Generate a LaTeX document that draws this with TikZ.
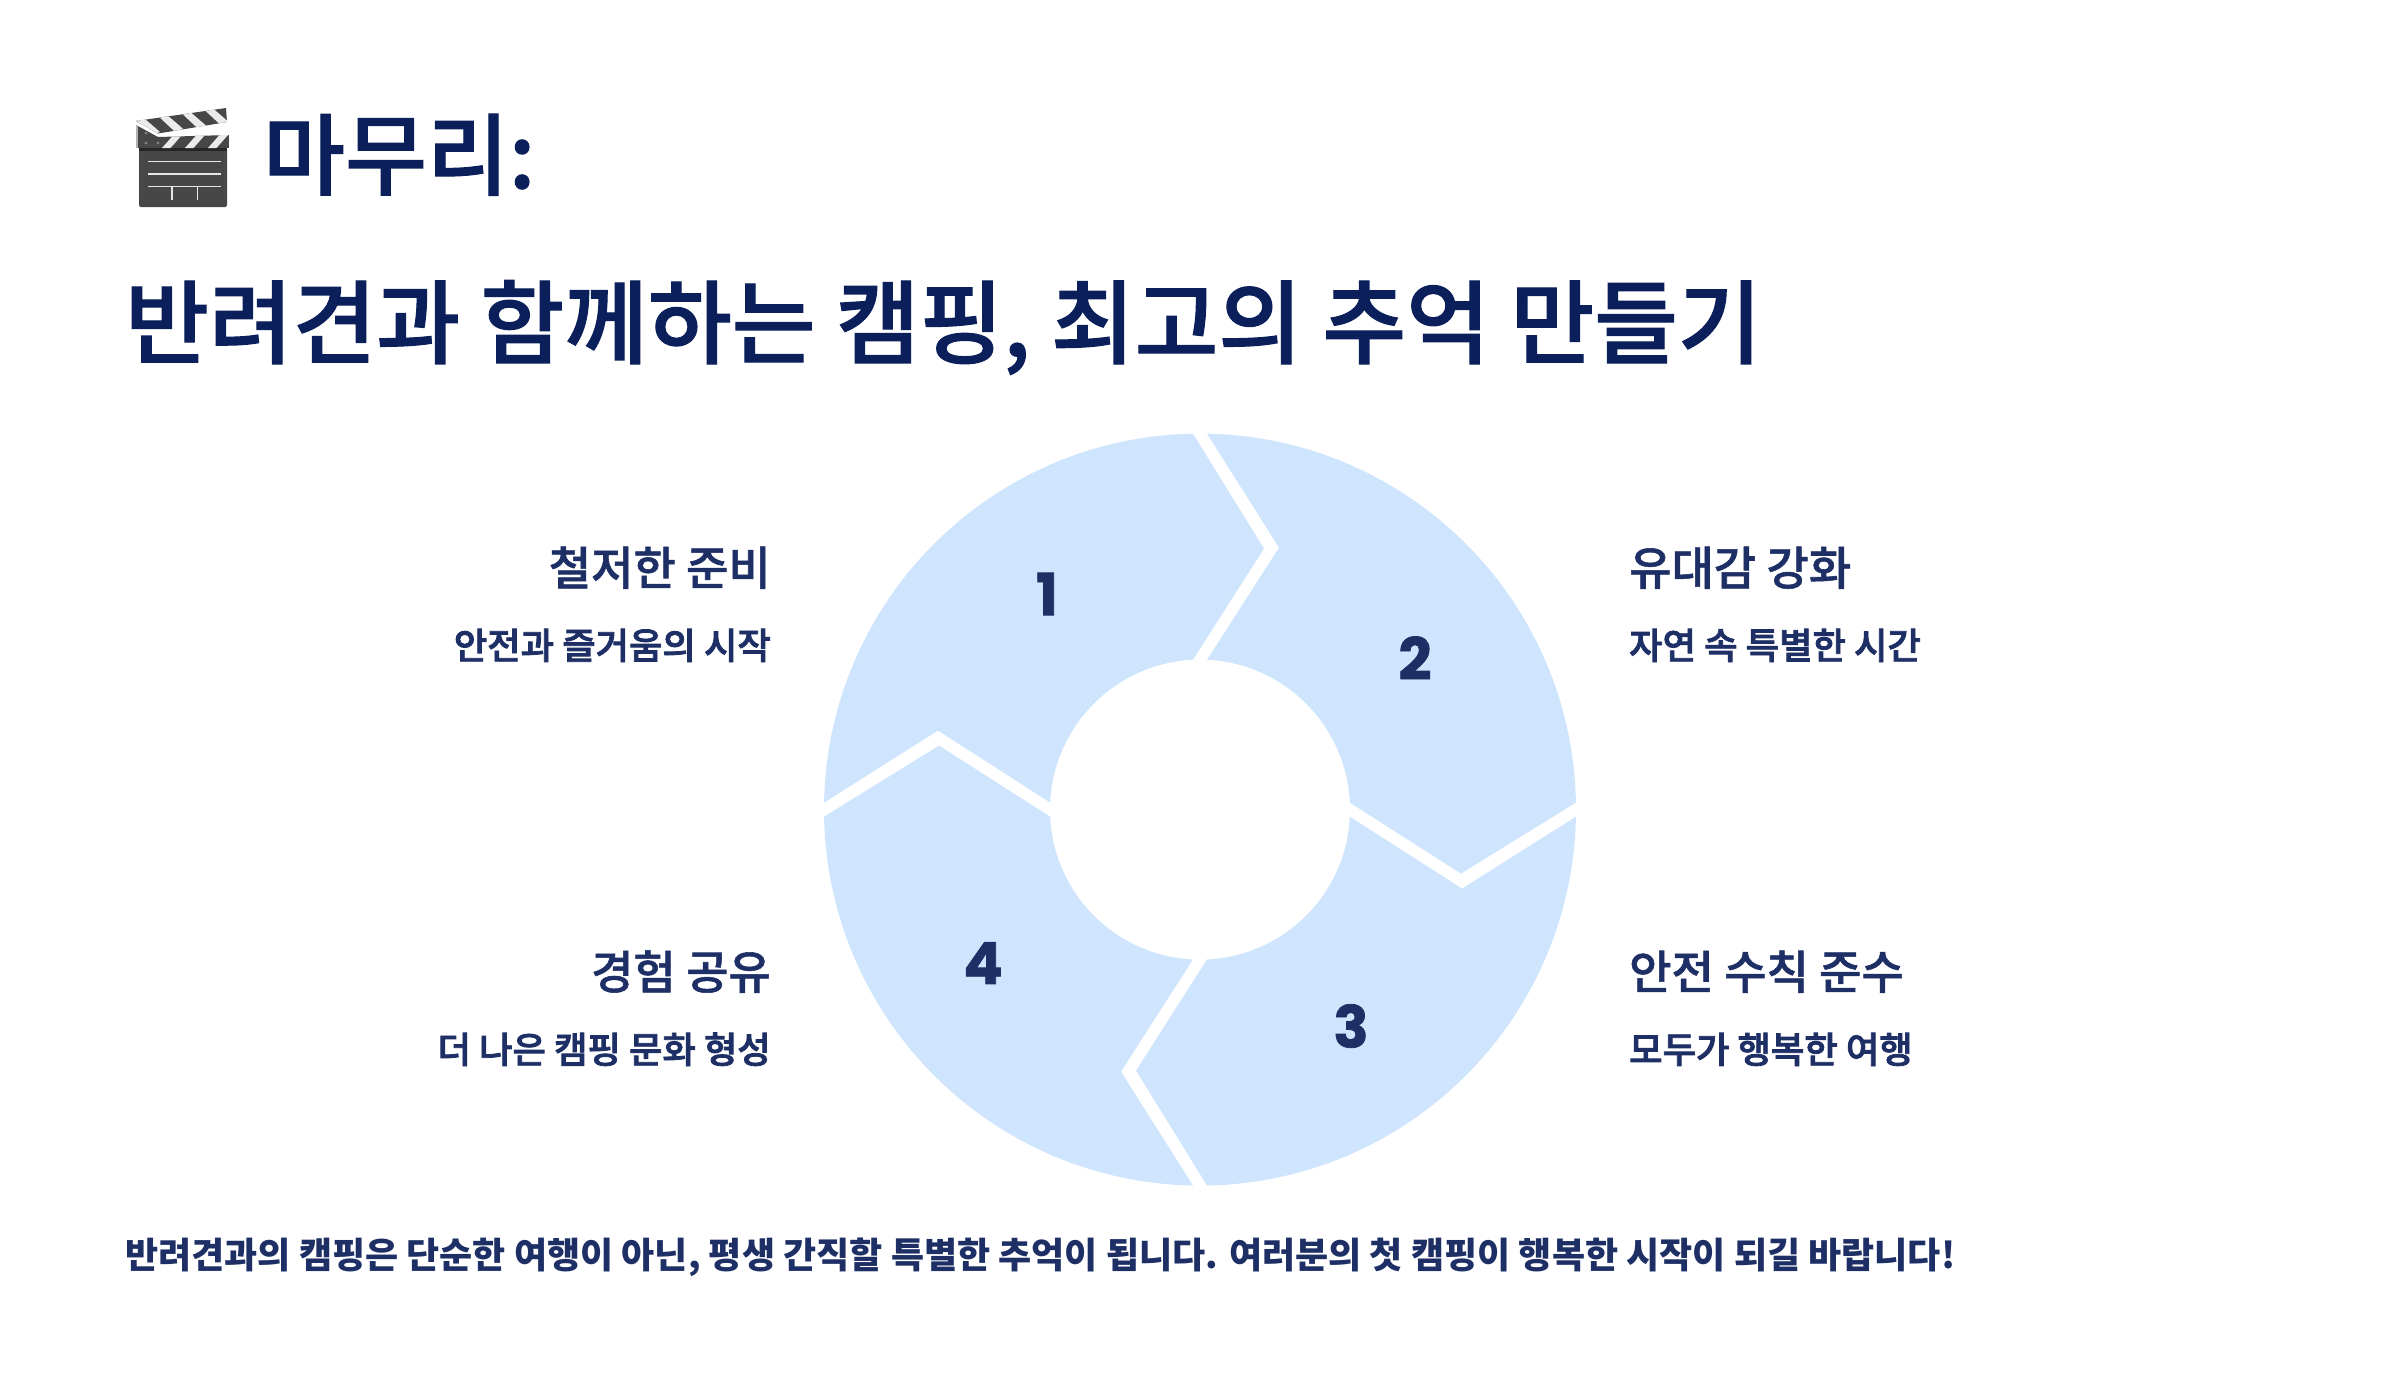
\documentclass[tikz,border=0pt]{standalone}
\usepackage{fontspec}
\setmainfont{Noto Sans CJK KR}
\newfontfamily\medfont[FakeBold=1.2]{Noto Sans CJK KR Medium}
\newfontfamily\subfont[FakeBold=2.2]{Noto Sans CJK KR Medium}
\newfontfamily\numfont[BoldFeatures={FakeBold=1.3}]{Poppins}
\usepackage{tikz}
\usetikzlibrary{positioning}
\definecolor{TitleBlue}{HTML}{0B1F5B}
\definecolor{TextBlue}{HTML}{1E2F66}
\definecolor{PetalBlue}{HTML}{CFE5FD}
\definecolor{ClapGray}{HTML}{474747}

\begin{document}
\begin{tikzpicture}[
    x=1pt, y=1pt,
    title/.style={anchor=base west, inner sep=0pt, text=TitleBlue, font=\fontsize{91}{91}\selectfont\medfont},
    head/.style={inner sep=0pt, text=TextBlue, font=\fontsize{46}{46}\selectfont\medfont},
    sub/.style={inner sep=0pt, text=TextBlue, font=\fontsize{36.3}{36.3}\selectfont\subfont},
    digit/.style={inner sep=0pt, text=TextBlue, font=\fontsize{58}{58}\selectfont\numfont\bfseries},
    petal/.style={fill=PetalBlue, draw=none},
    stripe/.style={fill=white!92!black, draw=none}
]
\useasboundingbox (0,-1382) rectangle (2400,0);

% Ring
\begin{scope}[shift={(1200,-809.6)}]
\foreach \ang in {0,-90,-180,-270} {
    \fill[petal, rotate=\ang] (178.93:376) arc[start angle=178.93, end angle=91.07, radius=376]
        -- (64,261) -- (92.67:150) arc[start angle=92.67, end angle=177.33, radius=150]
        -- (-262,79) -- cycle;
}
\end{scope}

% Numbers
\node[digit] (N1) at (1047,-594) {1};
\node[digit] (N2) at (1415,-658) {2};
\node[digit] (N3) at (1351,-1026) {3};
\node[digit] (N4) at (983,-963) {4};

% Titles
\node[title, font=\fontsize{89}{89}\selectfont\medfont] (T1) at (263,-188) {마무리:};
\node[title] (T2) at (125,-356.5) {반려견과 함께하는 캠핑, 최고의 추억 만들기};

% Left labels
\node[head, anchor=base east] (H1) at (771,-585) {철저한 준비};
\node[sub, anchor=base east] (S1) at (771,-659) {안전과 즐거움의 시작};
\node[head, anchor=base east] (H4) at (771,-989) {경험 공유};
\node[sub, anchor=base east] (S4) at (771,-1063) {더 나은 캠핑 문화 형성};

% Right labels
\node[head, anchor=base west] (H2) at (1629,-585) {유대감 강화};
\node[sub, anchor=base west] (S2) at (1629,-659) {자연 속 특별한 시간};
\node[head, anchor=base west] (H3) at (1629,-989) {안전 수칙 준수};
\node[sub, anchor=base west] (S3) at (1629,-1063) {모두가 행복한 여행};

% Closing line
\node[sub, anchor=base west, font=\fontsize{36}{36}\selectfont\bfseries] (C1) at (125,-1268)
    {반려견과의 캠핑은 단순한 여행이 아닌, 평생 간직할 특별한 추억이 됩니다. 여러분의 첫 캠핑이 행복한 시작이 되길 바랍니다!};

% Clapperboard
\fill[ClapGray, rounded corners=2pt] (139,-148) rectangle (227,-207);
\fill[black!85] (139,-148) rectangle (227,-150.5);
\foreach \yy in {-161.5,-174,-186.5} {
    \draw[white!90!black, line width=1.3pt] (148,\yy) -- (221,\yy);
}
\draw[white!90!black, line width=1.3pt] (172,-186.5) -- (172,-200);
\draw[white!90!black, line width=1.3pt] (197.5,-186.5) -- (197.5,-200);
% lower bar
\begin{scope}
\clip (136,-125) -- (158,-137) -- (229,-135) -- (229,-148) -- (136,-148) -- cycle;
\fill[ClapGray] (136,-120) rectangle (229,-148);
\fill[gray!60] (136,-120) rectangle (138,-148);
\foreach \sx in {162,185,208,231} {
    \fill[stripe] (\sx,-148) -- (\sx+8.5,-148) -- (\sx+20,-135) -- (\sx+11.5,-135) -- cycle;
}
\end{scope}
\foreach \dx/\dy in {146/-133,146/-143,158/-143} {
    \fill[gray] (\dx,\dy) circle[radius=1.6];
}
% upper arm
\begin{scope}
\clip (136,-121) -- (226,-108) -- (227,-122) -- (158,-133.5) -- cycle;
\fill[ClapGray] (130,-100) rectangle (230,-140);
\foreach \sx in {0,23,46,69} {
    \fill[stripe, xshift=\sx, yshift=\sx*0.14] (137,-121) -- (145,-119) -- (160,-132) -- (152,-135) -- cycle;
}
\end{scope}
\end{tikzpicture}
\end{document}
